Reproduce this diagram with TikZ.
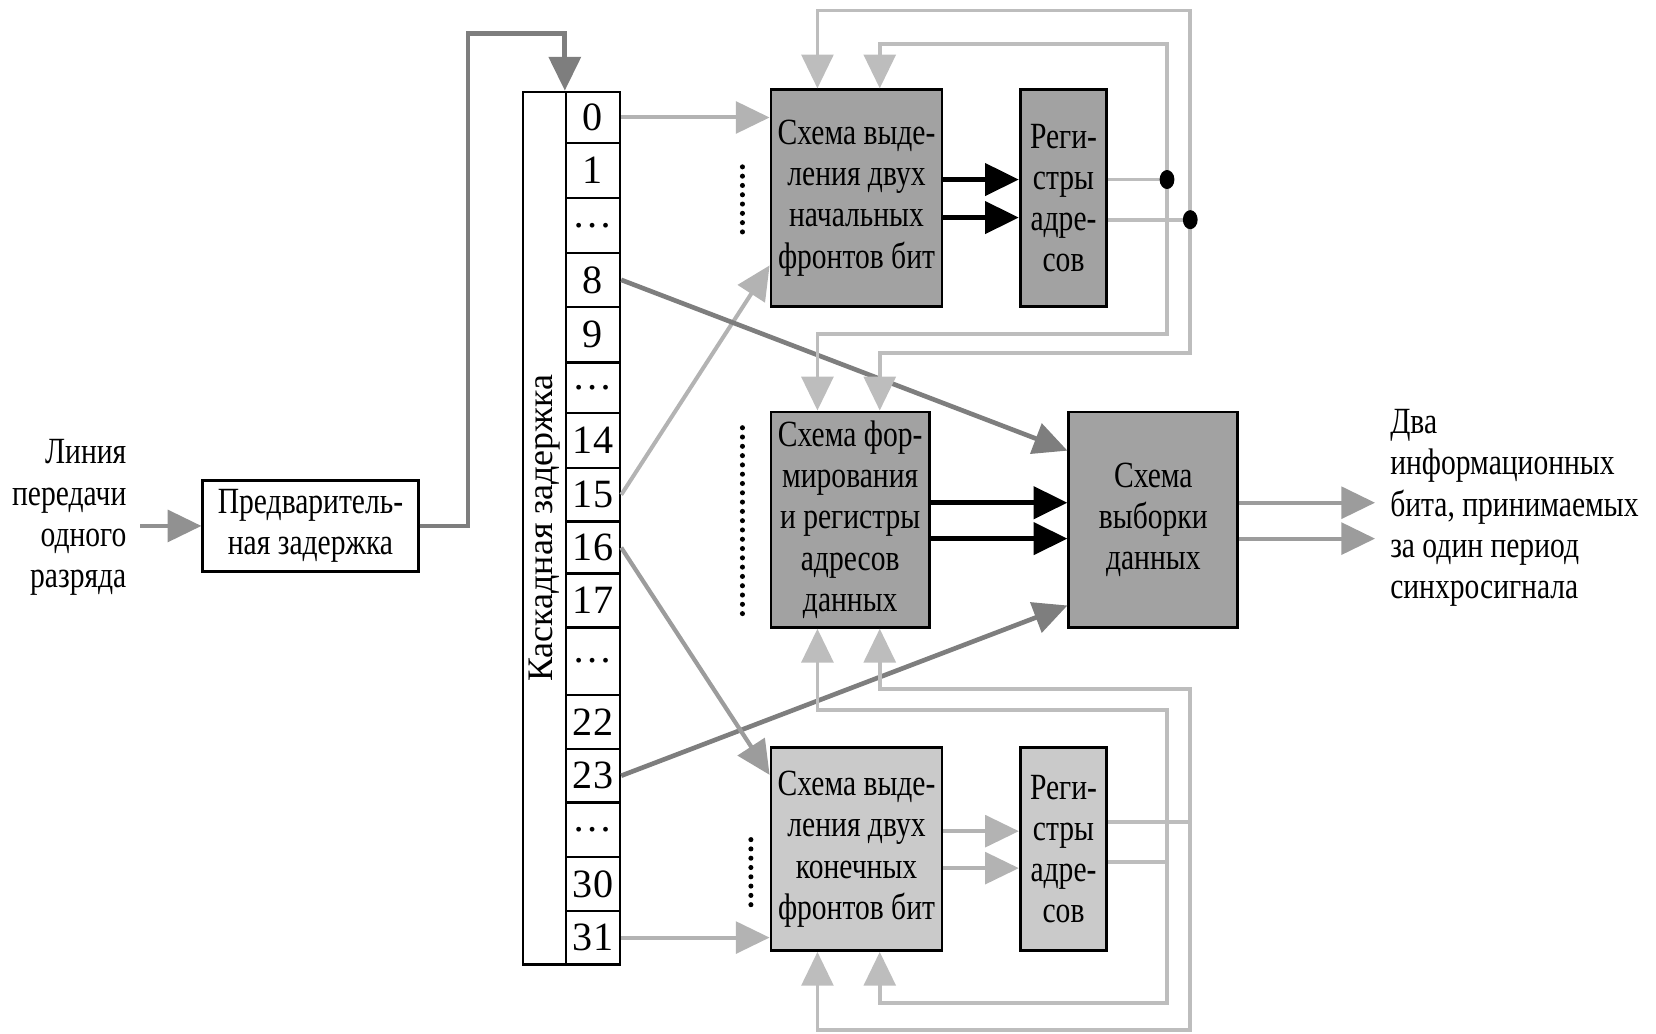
\documentclass[tikz,border=0pt]{standalone}
\usepackage{fontspec}
\setmainfont{Liberation Serif}[FakeStretch=0.8]
\newfontfamily\plainserif{Liberation Serif}
\usetikzlibrary{arrows.meta,calc,shapes.geometric}

\definecolor{fbcol}{HTML}{BDBDBD}
\definecolor{ltcol}{HTML}{B3B3B3}
\definecolor{midcol}{HTML}{9C9C9C}
\definecolor{dkcol}{HTML}{7E7E7E}
\definecolor{boxdark}{HTML}{A2A2A2}
\definecolor{boxlight}{HTML}{CACACA}

\begin{document}
\begin{tikzpicture}[x=0.5pt,y=-0.5pt,
  txt/.style={font=\fontsize{17.5}{19.5}\selectfont, align=center, inner sep=0pt},
  blk/.style={draw=black, line width=1.3pt, txt},
  dkblk/.style={blk, fill=boxdark},
  ltblk/.style={blk, fill=boxlight},
  cell/.style={draw=black, line width=1.2pt, minimum width=25.5pt, inner sep=0pt,
               font=\plainserif\fontsize{19}{19}\selectfont},
  tip/.style={-{Triangle[length=16pt,width=15pt]}},
  fbline/.style={draw=fbcol, line width=1.8pt},
  fbarr/.style={fbline, tip, fbcol},
  ltarr/.style={draw=ltcol, line width=1.9pt, tip, ltcol},
  midarr/.style={draw=midcol, line width=2pt, tip, midcol},
  dkarr/.style={draw=dkcol, line width=2.2pt, tip, dkcol},
  blkarr/.style={draw=black, line width=2.5pt, tip, black},
  dotnode/.style={ellipse, fill=black, minimum width=7pt, minimum height=9pt, inner sep=0pt},
  dotline/.style={draw=black, line width=2.4pt, line cap=round, dash pattern=on 0pt off 4.4pt}
]
\useasboundingbox (0,0) rectangle (1568,979);

% input label and pre-delay
\node[txt, align=right, anchor=east] (lin) at (120,490) {Линия\\передачи\\одного\\разряда};
\node[blk, fill=white, minimum width=102pt, minimum height=43pt] (pre) at (294,498)
  {Предваритель-\\ная задержка};

% cascade delay
\node[draw=black, line width=1.2pt, minimum width=46pt, minimum height=413pt, inner sep=0pt] (cas) at (541,500) {};
\node[rotate=90, font=\plainserif\fontsize{17}{17}\selectfont, inner sep=0pt] (caslbl) at (516,500) {Каскадная задержка};
\foreach \lab/\ta/\tb [count=\i from 0] in {0/87/135.5, 1/135.5/187.5, \ldots/187.5/239.5,
  8/239.5/290.5, 9/290.5/343, \ldots/343/391, 14/391/443, 15/443/494, 16/494/543,
  17/543/594, \ldots/594/658, 22/658/709, 23/709/760, \ldots/760/811.5, 30/811.5/862.5, 31/862.5/913}
  \node[cell, minimum height={(\tb-\ta)*0.5pt}] (cell\i) at (561.5,{(\ta+\tb)/2}) {\lab};

% main blocks
\node[dkblk, minimum width=81pt, minimum height=102.5pt] (A) at (811,187.5)
  {Схема выде-\\ления двух\\начальных\\фронтов бит};
\node[dkblk, minimum width=41pt, minimum height=102.5pt] (RA) at (1007,187.5)
  {Реги-\\стры\\адре-\\сов};
\node[dkblk, minimum width=75pt, minimum height=102pt] (B) at (805,492)
  {Схема фор-\\мирования\\и регистры\\адресов\\данных};
\node[dkblk, minimum width=80pt, minimum height=102pt] (C) at (1092,492)
  {Схема\\выборки\\данных};
\node[ltblk, minimum width=81pt, minimum height=96pt] (D) at (811,804)
  {Схема выде-\\ления двух\\конечных\\фронтов бит};
\node[ltblk, minimum width=41pt, minimum height=96pt] (RD) at (1007,804)
  {Реги-\\стры\\адре-\\сов};
\node[txt, align=left, anchor=west] (outlbl) at (1316,481)
  {Два\\информационных\\бита, принимаемых\\за один период\\синхросигнала};

% input and pre-delay output
\draw[midarr, draw=dkcol!85, dkcol!85] ($(lin.east |- pre.west)+(13,0)$) -- (pre.west);
\coordinate (k1) at (443,32);
\draw[dkarr] (pre.east) -| (k1) -| (cell0.north west);

% taps
\draw[ltarr] (cell0.east) -- (A.west |- cell0.east);
\draw[ltarr] (cell7.east) -- ([yshift=20pt]A.south west);
\draw[dkarr] (cell3.east) -- ([yshift=-19pt]C.north west);
\draw[dkarr] (cell12.east) -- ([yshift=11pt]C.south west);
\draw[midarr] (cell8.east) -- ([yshift=-13.5pt]D.north west);
\draw[ltarr] (cell15.east) -- (D.west |- cell15.east);

% block to block
\draw[blkarr] (A.east |- 0,170) -- (RA.west |- 0,170);
\draw[blkarr] (A.east |- 0,206) -- (RA.west |- 0,206);
\draw[blkarr] (B.east |- 0,476) -- (C.west |- 0,476);
\draw[blkarr] (B.east |- 0,510) -- (C.west |- 0,510);
\draw[ltarr] (D.east |- 0,787) -- (RD.west |- 0,787);
\draw[ltarr] (D.east |- 0,822) -- (RD.west |- 0,822);

% outputs
\coordinate (o1) at (1302,476);
\coordinate (o2) at (1302,510);
\draw[midarr] (C.east |- o1) -- (o1);
\draw[midarr] (C.east |- o2) -- (o2);

% upper feedback
\coordinate (p1) at (1105,170);
\coordinate (p2) at (1127,208);
\draw[fbline] (RA.east |- p1) -- (p1);
\draw[fbline] (RA.east |- p2) -- (p2);
\coordinate (uo1) at (1127,10);
\coordinate (uo2) at (1127,334);
\coordinate (ui1) at (1105,42);
\coordinate (ui2) at (1105,316);
\draw[fbarr] (p2) -- (uo1) -| (A.north -| 774,0);
\draw[fbarr] (p2) -- (uo2) -| (B.north -| 833,0);
\draw[fbarr] (p1) -- (ui1) -| (A.north -| 833,0);
\draw[fbarr] (p1) -- (ui2) -| (B.north -| 774,0);
\node[dotnode] (d1) at (p1) {};
\node[dotnode] (d2) at (p2) {};

% lower feedback
\coordinate (jo) at (1127,778);
\coordinate (ji) at (1105,816);
\draw[fbline] (RD.east |- jo) -- (jo);
\draw[fbline] (RD.east |- ji) -- (ji);
\coordinate (lo1) at (1127,652);
\coordinate (lo2) at (1127,975);
\coordinate (li1) at (1105,672);
\coordinate (li2) at (1105,950);
\draw[fbarr] (jo) -- (lo1) -| (B.south -| 833,0);
\draw[fbarr] (jo) -- (lo2) -| (D.south -| 774,0);
\draw[fbarr] (ji) -- (li1) -| (B.south -| 774,0);
\draw[fbarr] (ji) -- (li2) -| (D.south -| 833,0);

% dotted marks
\draw[dotline] (703,158) -- (703,224);
\draw[dotline] (703,405) -- (703,587);
\draw[dotline] (711,795) -- (711,860);
\end{tikzpicture}
\end{document}
